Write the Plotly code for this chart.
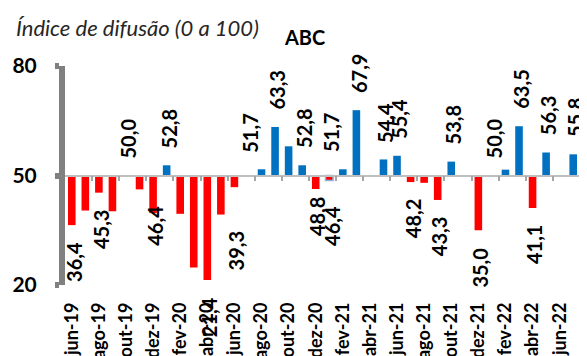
import plotly.graph_objects as go

# ---------------- data ----------------
months = [
    "jun-19", "jul-19", "ago-19", "set-19", "out-19", "nov-19", "dez-19",
    "jan-20", "fev-20", "mar-20", "abr-20", "mai-20", "jun-20", "jul-20",
    "ago-20", "set-20", "out-20", "nov-20", "dez-20", "jan-21", "fev-21",
    "mar-21", "abr-21", "mai-21", "jun-21", "jul-21", "ago-21", "set-21",
    "out-21", "nov-21", "dez-21", "jan-22", "fev-22", "mar-22", "abr-22",
    "mai-22", "jun-22", "jul-22",
]
values = [
    36.4, 40.4, 45.3, 40.2, 50.0, 46.2, 39.7,
    52.8, 39.5, 24.8, 21.4, 39.3, 46.8, 50.0,
    51.7, 63.3, 58.0, 52.8, 46.3, 48.6, 51.7,
    67.9, 50.0, 54.4, 55.4, 48.2, 48.0, 43.3,
    53.8, 50.0, 35.0, 50.0, 51.6, 63.5, 41.1,
    56.3, 50.0, 55.8,
]
# data labels as they appear on the chart: month, value, shown text
label_months = ["jun-19", "ago-19", "out-19", "dez-19", "jan-20", "abr-20",
                "jun-20", "jul-20", "set-20", "nov-20", "dez-20", "jan-21",
                "jan-21", "mar-21", "mai-21", "jun-21", "jul-21", "set-21",
                "out-21", "dez-21", "jan-22", "mar-22", "abr-22", "mai-22",
                "jul-22"]
label_values = [36.4, 45.3, 50.0, 46.4, 52.8, 21.4,
                39.3, 51.7, 63.3, 52.8, 48.8, 46.4,
                51.7, 67.9, 54.4, 55.4, 48.2, 43.3,
                53.8, 35.0, 50.0, 63.5, 41.1, 56.3,
                55.8]
tick_labels = months[::2]
baseline = 50
y_ticks = [20, 50, 80]
title = "ABC"
subtitle = "Índice de difusão (0 a 100)"

# ---------------- style ----------------
RED = "#FF0000"
BLUE = "#0070C0"
FONT = "Lato"
HIGHLIGHT = "jan-21"

colors = [BLUE if v > baseline else RED for v in values]
line_colors = ["#8DB4E2" if m == HIGHLIGHT else c for m, c in zip(months, colors)]
line_widths = [1.5 if m == HIGHLIGHT else 0 for m in months]

fig = go.Figure()
fig.add_trace(go.Bar(
    x=months,
    y=[v - baseline for v in values],
    base=baseline,
    marker=dict(color=colors, line=dict(color=line_colors, width=line_widths)),
    width=0.56,
    showlegend=False,
    hoverinfo="skip",
))
# helper trace so that the baseline axis (x2) is drawn
fig.add_trace(go.Scatter(x=[None], y=[None], xaxis="x2", showlegend=False,
                         hoverinfo="skip"))

n = len(months)
for m, v in zip(label_months, label_values):
    above = v >= baseline
    fig.add_annotation(
        x=m, y=v, xref="x", yref="y",
        text=f"{v:.1f}".replace(".", ","),
        textangle=-90, showarrow=False,
        yanchor="bottom" if above else "top",
        yshift=15 if above else -15,
        xshift=2,
        font=dict(family=FONT, size=20, color="#000000", weight="bold"),
    )

fig.add_annotation(
    text=subtitle, xref="paper", yref="paper",
    x=-0.099, y=1.175, xanchor="left", yanchor="middle", showarrow=False,
    font=dict(family=FONT, size=22, color="#262626", style="italic"),
)

# the page body adds an 8 px offset, so the figure is 8 px smaller
fig.update_layout(
    width=579, height=348,
    margin=dict(l=57, r=7, t=58, b=71, autoexpand=False),
    paper_bgcolor="white", plot_bgcolor="white",
    title=dict(text=title, x=0.513, y=0.914,
               xref="container", yref="container",
               xanchor="center", yanchor="middle", automargin=False,
               font=dict(family=FONT, size=20, color="#000000", weight="bold")),
    xaxis=dict(
        type="category", range=[-0.5, n - 0.5], automargin=False,
        tickmode="array", tickvals=tick_labels, ticktext=tick_labels,
        tickangle=-90, ticks="", showline=False, showgrid=False,
        zeroline=False, ticklabelstandoff=13,
        tickfont=dict(family=FONT, size=18, color="#000000", weight="bold"),
    ),
    xaxis2=dict(
        overlaying="x", anchor="free", position=0.5, type="linear",
        range=[-0.5, n - 0.5], automargin=False,
        tickmode="array", tickvals=[i + 1.5 for i in range(0, n, 2)],
        showticklabels=False, ticks="outside", ticklen=5, tickwidth=1.5,
        tickcolor="#A6A6A6", showline=True, linecolor="#BFBFBF", linewidth=1.5,
        showgrid=False, zeroline=False,
    ),
    yaxis=dict(
        range=[20, 80], tickmode="array", tickvals=y_ticks, automargin=False,
        showgrid=False, zeroline=False,
        showline=True, linecolor="#808080", linewidth=6,
        ticks="outside", ticklen=4, tickwidth=6, tickcolor="#808080",
        ticklabelstandoff=14,
        tickfont=dict(family=FONT, size=21, color="#000000", weight="bold"),
    ),
)

fig.write_html("out.html")
